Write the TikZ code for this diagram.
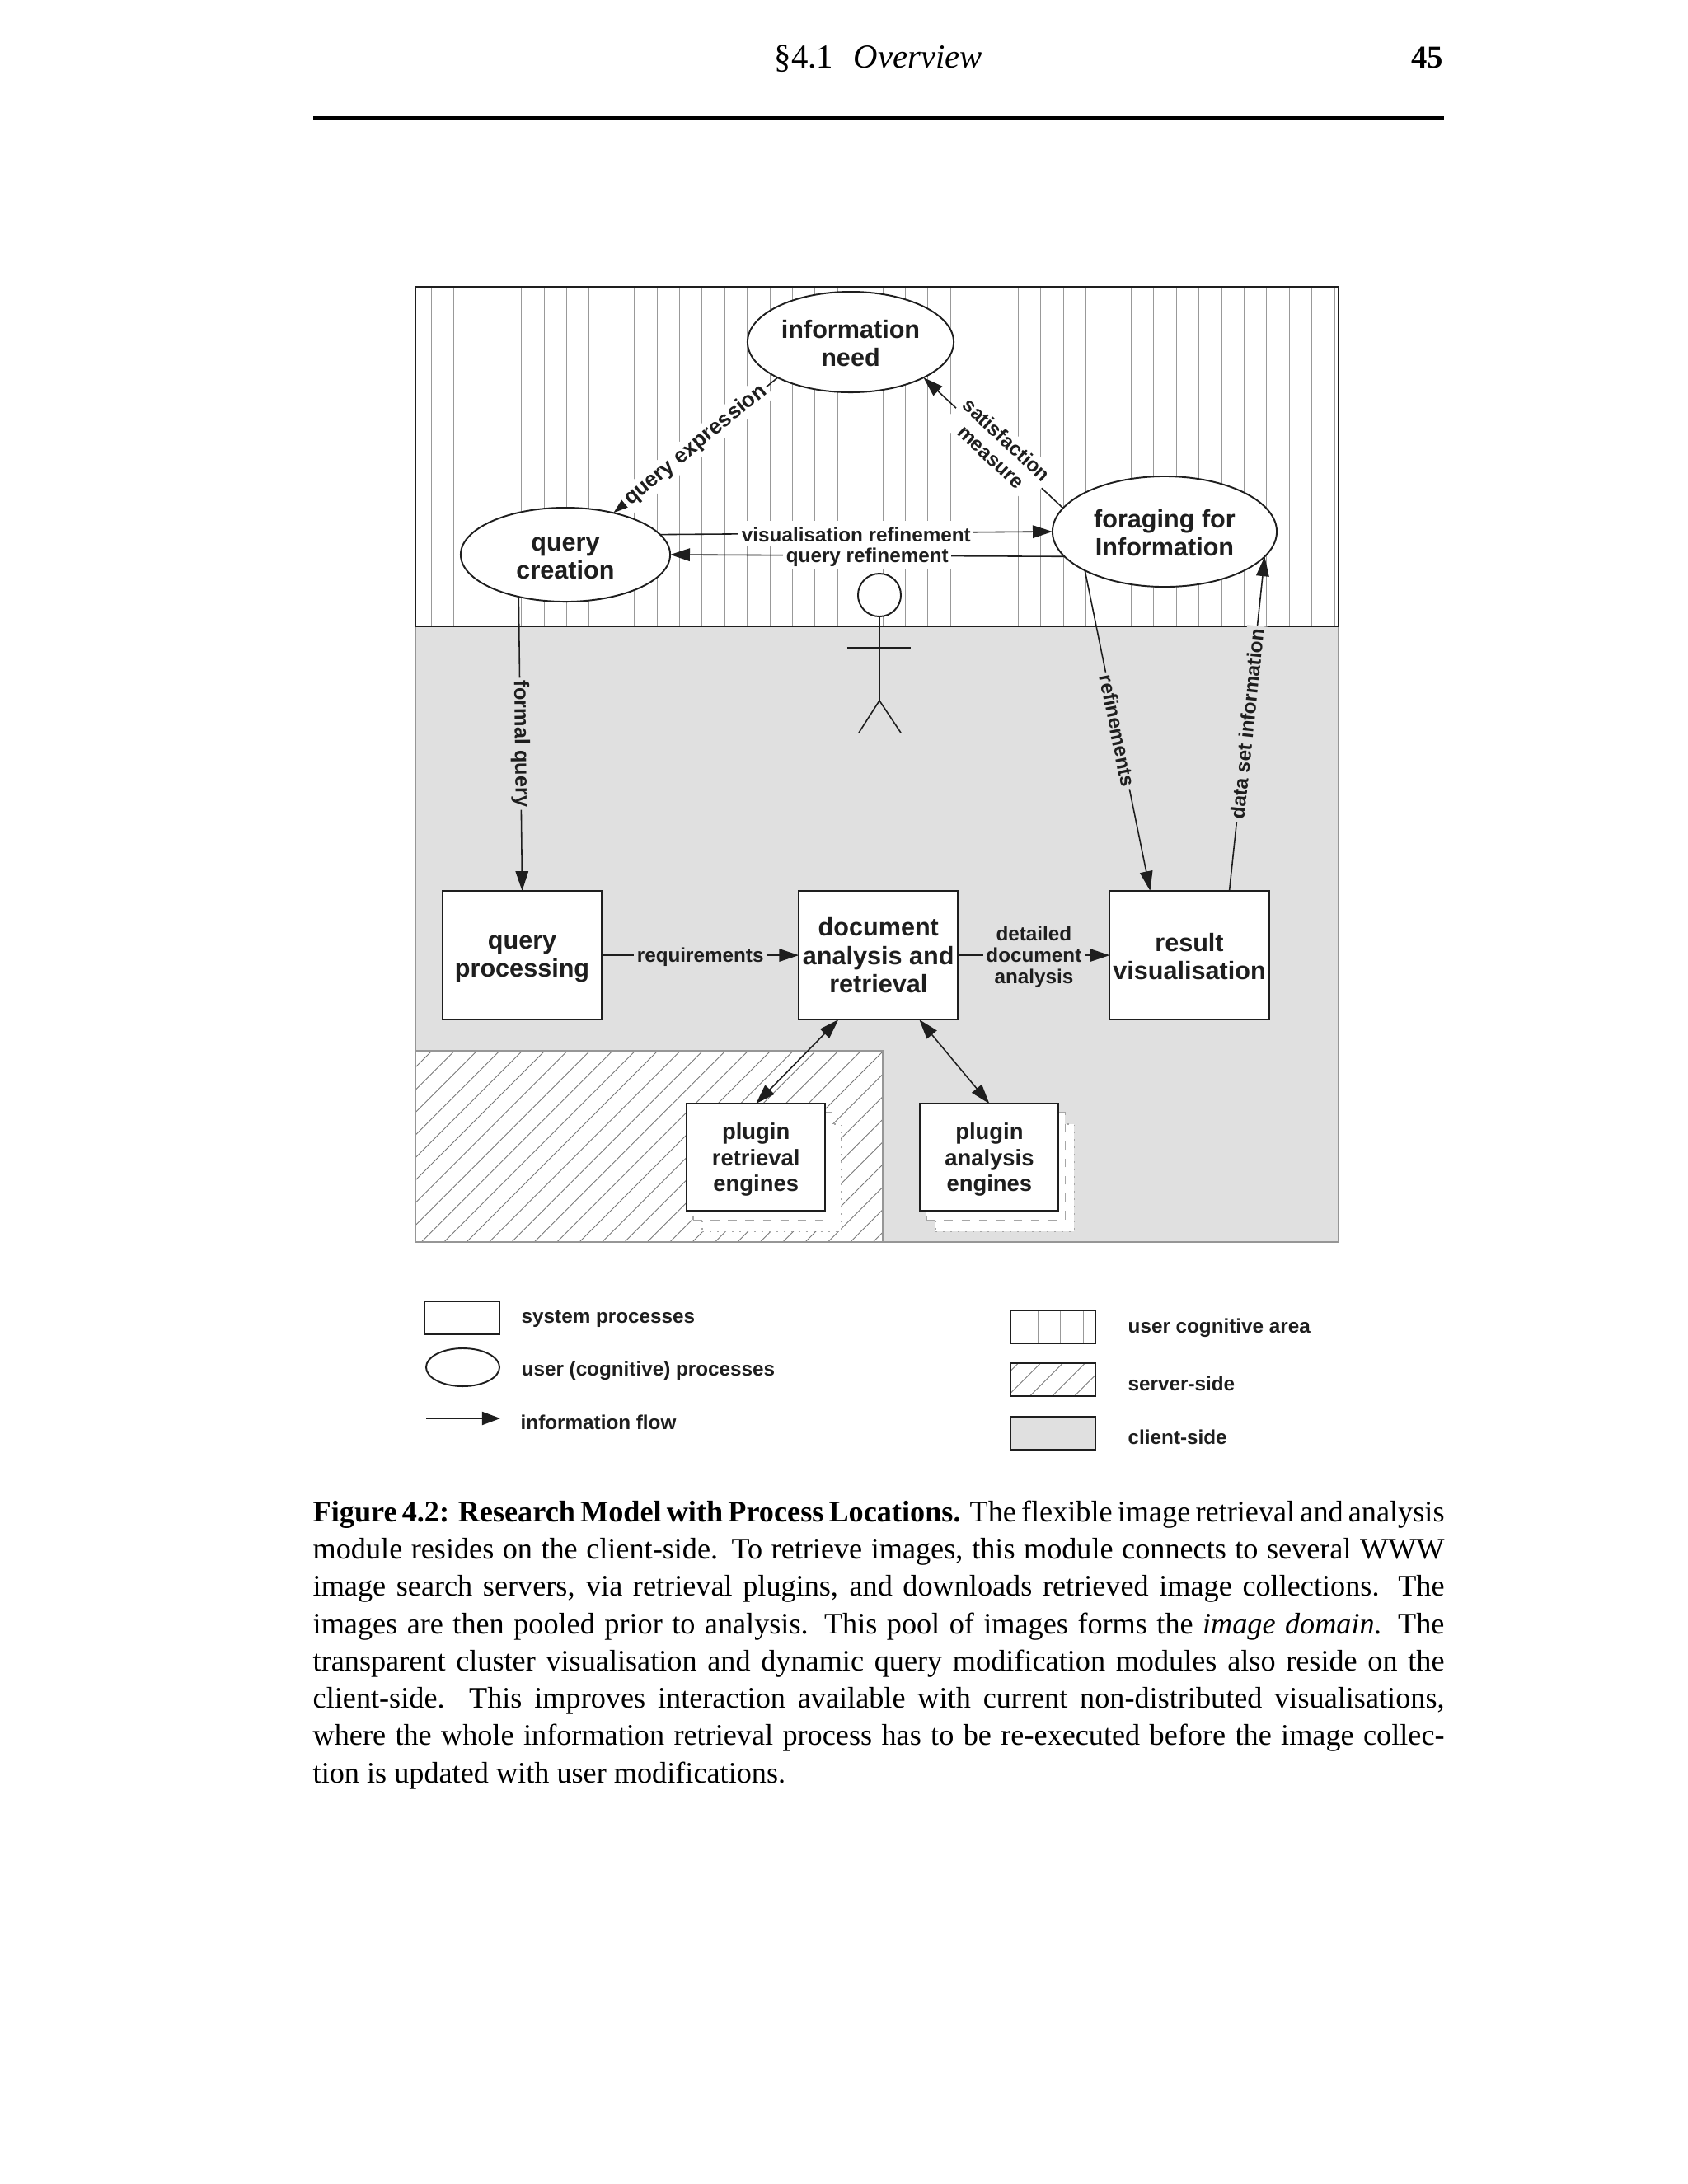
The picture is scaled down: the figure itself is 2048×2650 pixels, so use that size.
\documentclass[tikz,border=0pt]{standalone}
\usepackage{fontspec}
\setmainfont{Liberation Serif}
\setsansfont{Liberation Sans}
\usepackage{xcolor}
\usetikzlibrary{arrows.meta, positioning, shapes.geometric}
\definecolor{clientgray}{RGB}{224,224,224}
\definecolor{regionedge}{RGB}{150,150,150}
\definecolor{hatchgray}{RGB}{120,120,120}
\definecolor{inkblack}{RGB}{30,30,30}
\newcommand{\boxstrut}{\rule{0pt}{7.3pt}}
\newcommand{\lblstrut}{\rule{0pt}{6.4pt}}

\begin{document}
\begin{tikzpicture}[
    x=0.01cm, y=-0.01cm,
    >={Triangle[length=6.8pt, width=4.4pt]},
    box_common/.style={draw=inkblack, fill=white, line width=0.55pt, align=center, inner sep=0pt, outer sep=0pt, text=inkblack},
    box_proc/.style={box_common, minimum width=1.93cm, minimum height=1.56cm, font=\sffamily\bfseries\fontsize{8.7}{9.7}\selectfont},
    box_plugin/.style={box_common, minimum width=1.68cm, minimum height=1.30cm, font=\sffamily\bfseries\fontsize{7.8}{8.9}\selectfont},
    ghost_dash/.style={box_plugin, draw=gray!70, dashed, line width=0.4pt},
    ghost_dot/.style={box_plugin, draw=gray!70, dotted, line width=0.4pt},
    oval_user/.style={box_common, ellipse, font=\sffamily\bfseries\fontsize{8.7}{9.7}\selectfont},
    arrow/.style={->, line width=0.45pt, draw=inkblack},
    bothway/.style={<->, line width=0.45pt, draw=inkblack},
    lbl_common/.style={inner sep=1pt, align=center, text=inkblack, font=\sffamily\bfseries\fontsize{6.9}{7.9}\selectfont},
    lbl_user/.style={lbl_common, fill=white},
    lbl_client/.style={lbl_common, fill=clientgray},
    lbl_legend/.style={inner sep=0pt, text=inkblack, font=\sffamily\bfseries\fontsize{6.9}{8}\selectfont},
    band_line/.style={line width=0.25pt, draw=gray!80},
    hatch_line/.style={line width=0.25pt, draw=hatchgray},
    legend_box/.style={box_common, minimum width=1.03cm, minimum height=0.40cm},
    page_text/.style={inner sep=0pt, text=black}
]

\fill[white] (0,0) rectangle (2048,2650);
\useasboundingbox (0,0) rectangle (2048,2650);

% Page head
\node[page_text, font=\fontsize{11.6}{14}\selectfont] (headtitle) at (1066,71) {\S4.1\hspace{7pt}\textit{Overview}};
\node[page_text, anchor=east, font=\fontsize{11}{14}\selectfont\bfseries] (pagenum) at (1752,70) {45};
\draw[line width=1.1pt] (380,143) -- (1752,143);

% Client side
\fill[clientgray] (504,760) rectangle (1624,1507);
\draw[regionedge, line width=0.4pt] (504,760) rectangle (1624,1507);

% Server side
\fill[white] (504,1275) rectangle (1071,1507);
\begin{scope}
\clip (504,1275) rectangle (1071,1507);
\foreach \k in {-1,...,29}
    \draw[hatch_line] ({524+27.4*\k},1275) -- ++(-232,232);
\end{scope}
\draw[regionedge, line width=0.6pt] (504,1275) rectangle (1071,1507);

% User cognitive area
\foreach \k in {0,...,40}
    \draw[band_line] ({523+27.4*\k},348) -- ++(0,412);
\draw[inkblack, line width=0.5pt] (504,348) rectangle (1624,760);

% User processes
\node[oval_user, minimum width=2.50cm, minimum height=1.22cm] (infoneed) at (1032,415) {\boxstrut information\\need};
\node[oval_user, minimum width=2.54cm, minimum height=1.14cm] (qcreate) at (686,673) {\boxstrut query\\creation};
\node[oval_user, minimum width=2.72cm, minimum height=1.34cm] (foraging) at (1413,645) {\boxstrut foraging for\\Information};

% Actor
\node[box_common, circle, minimum size=0.52cm] (head) at (1067,722) {};
\coordinate[below=1.02cm of head.south] (hip);
\coordinate[below=0.38cm of head.south, xshift=-0.39cm] (armleft);
\coordinate[below=0.38cm of head.south, xshift=0.38cm] (armright);
\coordinate[below=0.39cm of hip, xshift=-0.25cm] (legleft);
\coordinate[below=0.39cm of hip, xshift=0.26cm] (legright);
\draw[inkblack, line width=0.45pt] (head.south) -- (hip);
\draw[inkblack, line width=0.45pt] (armleft) -- (armright);
\draw[inkblack, line width=0.45pt] (legleft) -- (hip) -- (legright);

% System processes
\node[box_proc, anchor=north west] (qproc) at (537,1081) {\boxstrut query\\processing};
\node[box_proc, right=2.39cm of qproc] (docana) {document\\analysis and\\retrieval};
\node[box_proc, right=1.84cm of docana] (result) {\boxstrut result\\visualisation};

% Plugin stacks
\node[ghost_dot, below=1.27cm of docana, xshift=-1.295cm] (retdot) {};
\node[ghost_dash, below=1.13cm of docana, xshift=-1.405cm] (retdash) {};
\node[box_plugin, below=1.02cm of docana, xshift=-1.485cm] (plugret) {\boxstrut plugin\\retrieval\\engines};
\node[ghost_dot, below=1.27cm of docana, xshift=1.535cm] (anadot) {};
\node[ghost_dash, below=1.13cm of docana, xshift=1.425cm] (anadash) {};
\node[box_plugin, below=1.02cm of docana, xshift=1.345cm] (plugana) {\boxstrut plugin\\analysis\\engines};

% Arrows
\draw[arrow] (infoneed.206) -- node[lbl_user, sloped, font=\sffamily\bfseries\fontsize{7.4}{8}\selectfont] (lblexpr) {query expression} (qcreate.41);
\draw[arrow] (foraging.167) -- node[lbl_user, sloped, pos=0.46] (lblsat) {satisfaction\\measure} (infoneed.-26);
\draw[arrow] (qcreate.12.6) -- node[lbl_user] (lblvis) {\lblstrut visualisation refinement} (foraging.180);
\draw[arrow] (foraging.194) -- node[lbl_user] (lblqref) {\lblstrut query refinement} (qcreate.0);
\draw[arrow] (qcreate.222) -- node[lbl_client, sloped, font=\sffamily\bfseries\fontsize{7.2}{8}\selectfont] (lblformal) {formal query} (qproc.north);
\draw[arrow] (foraging.206) -- node[lbl_client, sloped] (lblrefine) {refinements} ([xshift=-0.475cm]result.north);
\draw[arrow] ([xshift=0.485cm]result.north) -- node[lbl_client, sloped] (lbldata) {data set information} (foraging.-14.2);
\draw[arrow] (qproc) -- node[lbl_client] (lblreq) {\lblstrut requirements} (docana);
\draw[arrow] (docana) -- node[lbl_client] (lbldetail) {\lblstrut detailed\\[-0.5pt]document\\[-0.5pt]analysis} (result);
\draw[bothway] ([xshift=-0.485cm]docana.south) -- (plugret.north);
\draw[bothway] ([xshift=0.495cm]docana.south) -- (plugana.north);

% Legend, left
\node[legend_box, anchor=north west, minimum width=0.91cm] (keyproc) at (515,1579) {};
\node[lbl_legend, anchor=west] (txtproc) at (632,1600) {system processes};
\node[box_common, ellipse, minimum width=0.89cm, minimum height=0.46cm] (keyoval) at (561.5,1659) {};
\node[lbl_legend, anchor=west] (txtoval) at (632,1663) {user (cognitive) processes};
\coordinate (keyfrom) at (517,1721);
\coordinate (keyto) at (607,1721);
\draw[->, >={Triangle[length=6.3pt, width=4.6pt]}, line width=0.45pt, draw=inkblack] (keyfrom) -- (keyto);
\node[lbl_legend, anchor=west] (txtflow) at (631,1726) {information flow};

% Legend, right
\foreach \xx in {1231,1259,1286,1314}
    \draw[band_line] (\xx,1590) -- ++(0,40);
\node[legend_box, anchor=north west, fill=none] (keyuser) at (1226,1590) {};
\node[lbl_legend, anchor=west] (txtuser) at (1368,1611) {user cognitive area};
\begin{scope}
\clip (1226,1654) rectangle (1329,1694);
\foreach \k in {0,...,6}
    \draw[hatch_line] ({1235.5+27*\k},1654) -- ++(-40,40);
\end{scope}
\node[legend_box, anchor=north west, fill=none] (keyserver) at (1226,1654) {};
\node[lbl_legend, anchor=west] (txtserver) at (1368,1679) {server-side};
\node[legend_box, anchor=north west, fill=clientgray] (keyclient) at (1226,1719) {};
\node[lbl_legend, anchor=west] (txtclient) at (1368,1744) {client-side};

% Caption
\node[page_text, anchor=north west, text width=13.72cm, align=justify, font=\fontsize{10.3}{12.87}\selectfont] (caption) at (379,1820) {\textbf{Figure 4.2: Research Model with Process Locations.} The flexible image retrieval and analysis\linebreak
module resides on the client-side. To retrieve images, this module connects to several WWW\linebreak
image search servers, via retrieval plugins, and downloads retrieved image collections. The\linebreak
images are then pooled prior to analysis. This pool of images forms the \textit{image domain.} The\linebreak
transparent cluster visualisation and dynamic query modification modules also reside on the\linebreak
client-side. This improves interaction available with current non-distributed visualisations,\linebreak
where the whole information retrieval process has to be re-executed before the image collec-\linebreak
tion is updated with user modifications.};

\end{tikzpicture}
\end{document}
